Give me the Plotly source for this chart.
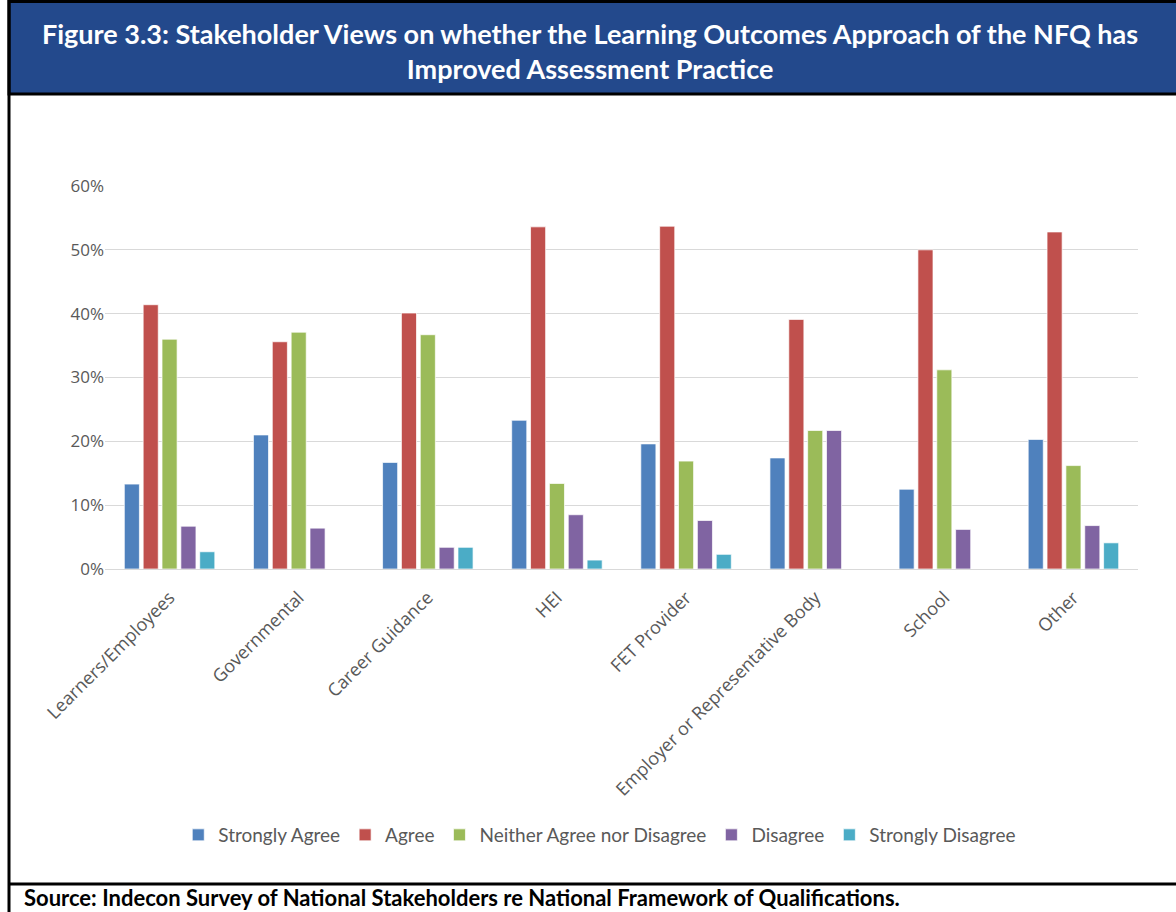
import plotly.graph_objects as go

W, H = 1176, 912

categories = ["Learners/Employees", "Governmental", "Career Guidance", "HEI",
              "FET Provider", "Employer or Representative Body", "School", "Other"]

strongly_agree = [13.3, 21.0, 16.7, 23.3, 19.6, 17.4, 12.5, 20.3]
agree = [41.4, 35.6, 40.1, 53.6, 53.7, 39.1, 50.0, 52.8]
neither = [36.0, 37.1, 36.7, 13.4, 16.9, 21.7, 31.2, 16.2]
disagree = [6.7, 6.4, 3.4, 8.5, 7.6, 21.7, 6.2, 6.8]
strongly_disagree = [2.7, 0.0, 3.4, 1.4, 2.3, 0.0, 0.0, 4.1]

series_names = ["Strongly Agree", "Agree", "Neither Agree nor Disagree",
                "Disagree", "Strongly Disagree"]
series_values = [strongly_agree, agree, neither, disagree, strongly_disagree]
series_colors = ["#4F81BD", "#C0504D", "#9BBB59", "#8064A2", "#4BACC6"]

y_ticks = [0, 10, 20, 30, 40, 50, 60]
y_tick_labels = ["0%", "10%", "20%", "30%", "40%", "50%", "60%"]


def px(x):
    return x / W


def py(y):
    return 1 - y / H


fig = go.Figure()
for name, vals, col in zip(series_names, series_values, series_colors):
    fig.add_trace(go.Bar(
        x=categories, y=vals, name=name,
        marker=dict(color=col, line=dict(color="rgba(255,255,255,0.7)", width=1)),
    ))

fig.update_layout(
    width=W, height=H,
    margin=dict(l=0, r=0, t=0, b=0, autoexpand=False),
    paper_bgcolor="white", plot_bgcolor="white",
    barmode="group", bargap=0.27, bargroupgap=0.2,
    font=dict(family="Open Sans", color="#595959", size=16),
    xaxis=dict(
        domain=[px(105), px(1138)],
        tickangle=-45, tickfont=dict(size=18, color="#595959", family="Open Sans"),
        ticklabelstandoff=10,
        showline=True, linecolor="#D9D9D9", linewidth=1,
        ticks="", showgrid=False, automargin=False,
    ),
    yaxis=dict(
        domain=[py(569), py(186)],
        range=[0, 60], tickvals=y_ticks, ticktext=y_tick_labels,
        tickfont=dict(size=17, color="#595959", family="Open Sans"),
        showgrid=True, gridcolor="#D9D9D9", gridwidth=1,
        zeroline=False, showline=False, ticks="", ticklen=0, automargin=False,
    ),
    legend=dict(
        orientation="h", x=0.51, xanchor="center", y=py(835), yanchor="middle",
        font=dict(family="Lato", size=19, color="#595959"),
        itemwidth=30, traceorder="normal",
    ),
    showlegend=True,
)

# Title banner, frame lines and source note
fig.add_shape(type="rect", xref="paper", yref="paper",
              x0=px(9), x1=px(1178), y0=py(94), y1=py(1.5),
              fillcolor="#23498C", line=dict(color="black", width=3), layer="below")
fig.add_shape(type="line", xref="paper", yref="paper",
              x0=px(9), x1=px(9), y0=py(912), y1=py(0),
              line=dict(color="black", width=3))
fig.add_shape(type="line", xref="paper", yref="paper",
              x0=px(9), x1=px(1178), y0=py(884), y1=py(884),
              line=dict(color="black", width=3))

fig.add_annotation(
    xref="paper", yref="paper", x=px(590), y=py(51), xanchor="center", yanchor="middle",
    text="Figure 3.3: Stakeholder Views on whether the Learning Outcomes Approach of the NFQ has<br>Improved Assessment Practice",
    showarrow=False, align="center",
    font=dict(family="Lato", size=27, color="white", weight="bold"),
)
fig.add_annotation(
    xref="paper", yref="paper", x=px(22), y=py(897), xanchor="left", yanchor="middle",
    text="Source: Indecon Survey of National Stakeholders re National Framework of Qualifications.",
    showarrow=False, align="left",
    font=dict(family="Lato", size=22, color="black", weight="bold"),
)

fig.write_html("out.html")
